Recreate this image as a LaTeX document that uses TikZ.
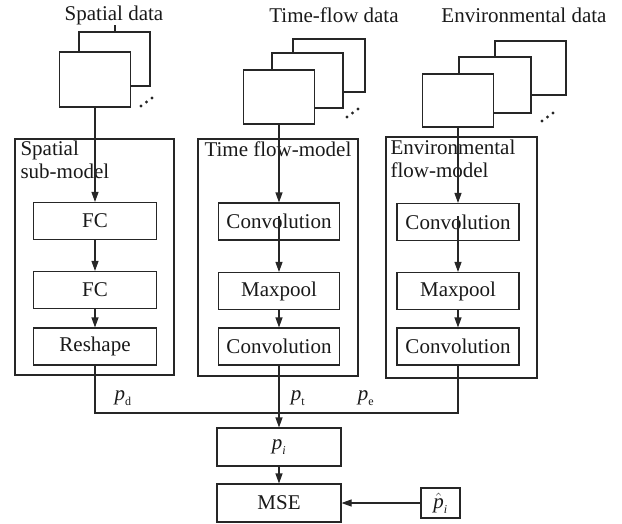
\documentclass[tikz,border=0pt]{standalone}
\usepackage{fontspec}
\setmainfont{Liberation Serif}
\usetikzlibrary{arrows.meta}
\newcommand\psb[1]{$\mbox{\textit{p}}_{\mbox{\fontsize{12}{12}\selectfont #1}}$}
\begin{document}
\begin{tikzpicture}[x=1pt,y=-1pt,
  line width=1.1pt, draw=black!85,
  every node/.style={font=\fontsize{21}{23}\selectfont, text=black!90},
  frame/.style={draw, fill=white},
  blk/.style={draw, minimum width=122pt, minimum height=37pt, inner sep=0pt},
  outer/.style={draw},
  arr/.style={-{Triangle[length=10pt,width=7pt]}},
  dot/.style={circle, fill=black!85, inner sep=0pt, minimum size=3.4pt},
  lab/.style={inner sep=0pt}
]
\useasboundingbox (0,0) rectangle (622,523);

% ---------- headings
\node[lab] (hs) at (114,15) {Spatial data};
\node[lab] (ht) at (334,15) {Time-flow data};
\node[lab] (he) at (524,15) {Environmental data};

% ---------- data frames
\draw[frame] (79,32) rectangle (150,86);
\node[frame, minimum width=71pt, minimum height=55pt, inner sep=0pt] (fs) at (95,79.5) {};
\draw (115,25) -- (115,32);
\node[dot] (ds1) at (141,106) {};
\node[dot] (ds2) at (146.5,102) {};
\node[dot] (ds3) at (152,98) {};

\draw[frame] (293,39) rectangle (365,92);
\draw[frame] (272,53) rectangle (343,108);
\node[frame, minimum width=71pt, minimum height=54pt, inner sep=0pt] (ft) at (279,97) {};
\node[dot] (dt1) at (347,117) {};
\node[dot] (dt2) at (352.5,113) {};
\node[dot] (dt3) at (358,109) {};

\draw[frame] (495,41) rectangle (566,95);
\draw[frame] (459,57) rectangle (531,113);
\node[frame, minimum width=71pt, minimum height=53pt, inner sep=0pt] (fe) at (458,100.5) {};
\node[dot] (de1) at (542,121) {};
\node[dot] (de2) at (547.5,117) {};
\node[dot] (de3) at (553,113) {};

% ---------- outer model boxes
\draw[outer] (15,139) rectangle (174,375);
\draw[outer] (198,139) rectangle (358,376);
\draw[outer] (386,137) rectangle (537,378);

\node[lab, anchor=north west, align=left] (ls) at (20,140) {Spatial\\sub-model};
\node[lab, anchor=north west, align=left] (lt) at (204,141) {Time flow-model};
\node[lab, anchor=north west, align=left] (le) at (390,139) {Environmental\\flow-model};

% ---------- blocks
\node[blk, minimum width=123pt] (s1) at (95,221) {FC};
\node[blk, minimum width=123pt] (s2) at (95,290) {FC};
\node[blk, minimum width=123pt] (s3) at (95,346.5) {Reshape};

\node[blk, minimum width=121pt] (t1) at (279,221.5) {Convolution};
\node[blk, minimum width=121pt] (t2) at (279,291) {Maxpool};
\node[blk, minimum width=121pt] (t3) at (279,346.5) {Convolution};

\node[blk] (e1) at (458,222) {Convolution};
\node[blk] (e2) at (458,291) {Maxpool};
\node[blk] (e3) at (458,346.5) {Convolution};

% ---------- connectors inside
\draw[arr] (fs.south) -- (s1.north);
\draw[arr] (s1.south) -- (s2.north);
\draw[arr] (s2.south) -- (s3.north);

\draw[arr] (ft.south) -- (t1.north);
\draw[arr] ([yshift=6pt]t1.center) -- (t2.north);
\draw[arr] (t2.south) -- (t3.north);

\draw[arr] (fe.south) -- (e1.north);
\draw[arr] ([yshift=6pt]e1.center) -- (e2.north);
\draw[arr] (e2.south) -- (e3.north);

% ---------- bottom
\node[blk, minimum width=124pt, minimum height=38pt] (pi) at (279,447) {\psb{\textit{i}}};
\node[blk, minimum width=124pt, minimum height=38pt] (mse) at (279,503) {MSE};
\node[blk, minimum width=39pt, minimum height=30pt] (ph) at (440.5,503) {$\hat{\mbox{\textit{p}}}_{\mbox{\fontsize{12}{12}\selectfont\textit{i}}}$};

\coordinate (jl) at (95,413);
\coordinate (jr) at (458,413);
\draw (s3.south) -- (jl) -- (jr) -- (e3.south);
\draw[arr] (t3.south) -- (pi.north);
\draw[arr] (pi.south) -- (mse.north);
\draw[arr] (ph.west) -- (mse.east);

\node[lab] (pd) at (123,398) {\psb{d}};
\node[lab] (pt) at (298,398) {\psb{t}};
\node[lab] (pe) at (366,398) {\psb{e}};
\end{tikzpicture}
\end{document}
